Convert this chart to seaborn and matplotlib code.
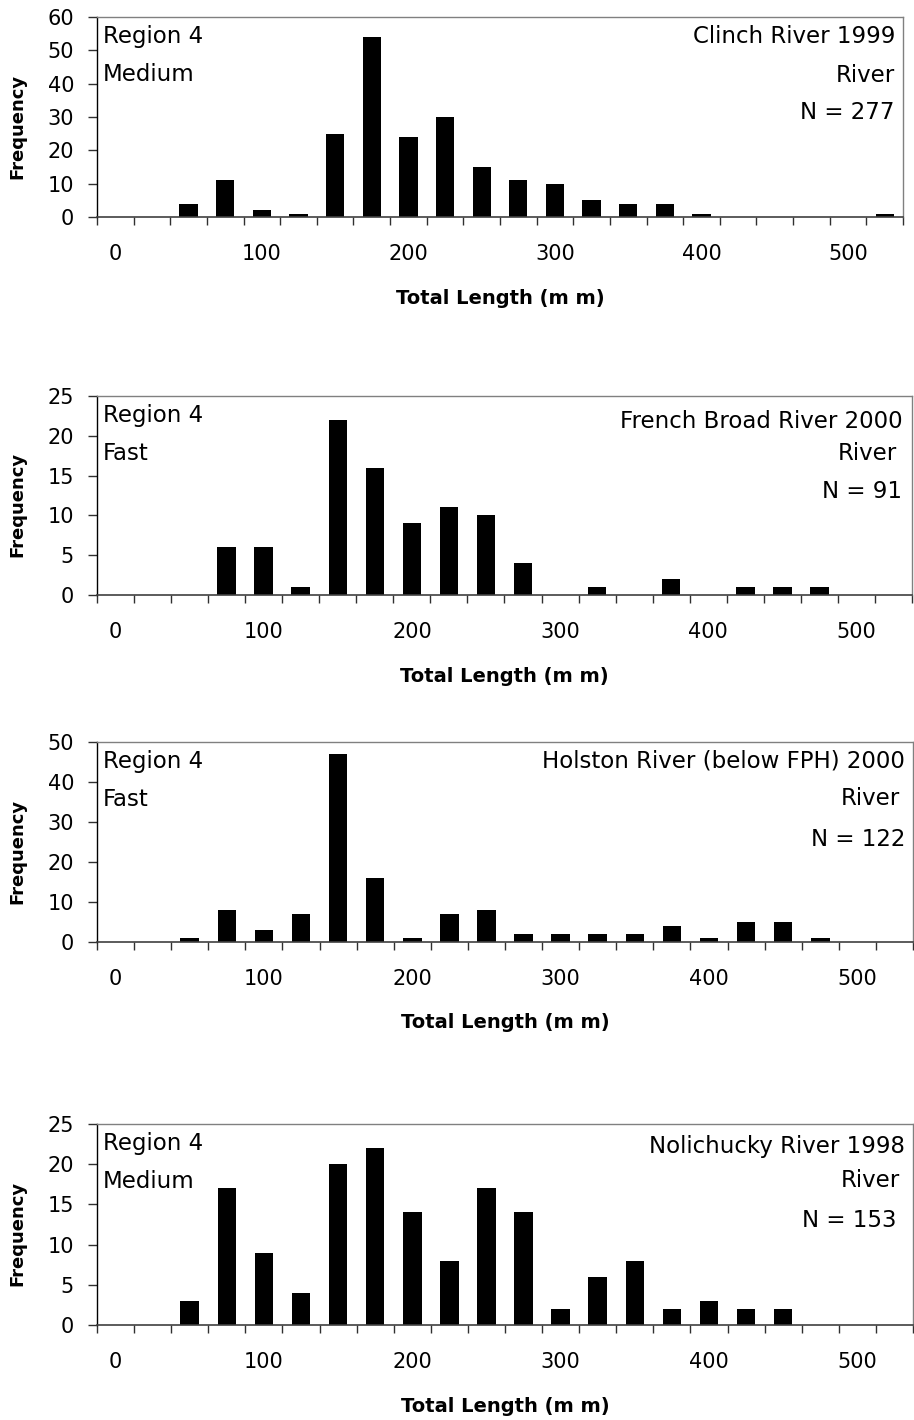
import numpy as np
import pandas as pd
import matplotlib
matplotlib.use("Agg")
import matplotlib.pyplot as plt
import seaborn as sns

# ---------------- data ----------------
length_bins = [0, 25, 50, 75, 100, 125, 150, 175, 200, 225, 250,
               275, 300, 325, 350, 375, 400, 425, 450, 475, 500, 525]
x_tick_labels = ["0", "100", "200", "300", "400", "500"]

clinch_freq = [0, 0, 4, 11, 2, 1, 25, 54, 24, 30, 15,
               11, 10, 5, 4, 4, 1, 0, 0, 0, 0, 1]
french_broad_freq = [0, 0, 0, 6, 6, 1, 22, 16, 9, 11, 10,
                     4, 0, 1, 0, 2, 0, 1, 1, 1, 0, 0]
holston_freq = [0, 0, 1, 8, 3, 7, 47, 16, 1, 7, 8,
                2, 2, 2, 2, 4, 1, 5, 5, 1, 0, 0]
nolichucky_freq = [0, 0, 3, 17, 9, 4, 20, 22, 14, 8, 17,
                   14, 2, 6, 8, 2, 3, 2, 2, 0, 0, 0]

panel_left_text = [["Region 4", "Medium"], ["Region 4", "Fast"],
                   ["Region 4", "Fast"], ["Region 4", "Medium"]]
panel_right_text = [["Clinch River 1999", "River", "N = 277"],
                    ["French Broad River 2000", "River", "N = 91"],
                    ["Holston River (below FPH) 2000", "River", "N = 122"],
                    ["Nolichucky River 1998", "River", "N = 153"]]
panel_freqs = [clinch_freq, french_broad_freq, holston_freq, nolichucky_freq]
y_max = [60, 25, 50, 25]
y_step = [10, 5, 10, 5]

# ---------------- layout (pixels) ----------------
W, H = 914, 1420
# left, right, top, bottom in pixel coords
boxes = [(97, 903, 17, 217), (97, 912, 396, 595),
         (97, 913, 742, 942), (97, 913, 1124, 1325)]
right_baselines = [[26, 65, 102], [32, 64, 102], [25, 63, 104], [29, 63, 103]]
right_offsets = [[-8, -8, -8], [-9, -15, -10], [-8, -13, -8], [-8, -13, -16]]
left_baselines = [26, 64]

sns.set_theme(style="white")
plt.rcParams["font.family"] = ["DejaVu Sans"]

fig = plt.figure(figsize=(W / 100, H / 100), dpi=100)
order = [str(v) for v in length_bins]

for i in range(4):
    l, r, t, b = boxes[i]
    ax = fig.add_axes([l / W, (H - b) / H, (r - l) / W, (b - t) / H])
    df = pd.DataFrame({"Length": order, "Frequency": panel_freqs[i]})
    sns.barplot(data=df, x="Length", y="Frequency", order=order, color="black",
                saturation=1, width=0.5, edgecolor="black", linewidth=0, ax=ax)

    n = len(length_bins)
    ax.set_xlim(-0.5, n - 0.5)
    ax.set_ylim(0, y_max[i])
    ax.set_yticks(np.arange(0, y_max[i] + 1, y_step[i]))
    ax.set_yticklabels([str(v) for v in range(0, y_max[i] + 1, y_step[i])])
    ax.set_xticks([0, 4, 8, 12, 16, 20])
    ax.set_xticklabels(x_tick_labels)
    ax.set_xticks(np.arange(-0.5, n, 1.0), minor=True)

    ax.tick_params(axis="x", which="major", length=0, pad=19.5, labelsize=15,
                   labelcolor="black")
    ax.tick_params(axis="x", which="minor", bottom=True, length=5.8, width=1,
                   color="#303030", direction="out")
    ax.tick_params(axis="y", which="major", left=True, length=6.5, width=1,
                   color="#303030", direction="out", pad=10, labelsize=15,
                   labelcolor="black")

    for side in ["top", "right"]:
        ax.spines[side].set_visible(True)
        ax.spines[side].set_color("#808080")
        ax.spines[side].set_linewidth(1.0)
    ax.spines["left"].set_color("black")
    ax.spines["left"].set_linewidth(1.0)
    ax.spines["bottom"].set_color("#404040")
    ax.spines["bottom"].set_linewidth(1.2)
    ax.grid(False)

    ax.set_xlabel("Total Length (m m)", fontsize=14, fontweight="bold",
                  color="black", va="center")
    ax.xaxis.set_label_coords(0.5, -81 / (b - t))
    ax.set_ylabel("Frequency", fontsize=13, fontweight="bold",
                  color="black", va="center")
    ax.yaxis.set_label_coords((17 - l) / (r - l), 0.455)

    for j, txt in enumerate(panel_left_text[i]):
        ax.annotate(txt, xy=(0, 1), xycoords="axes fraction",
                    xytext=(6, -left_baselines[j]), textcoords="offset pixels",
                    ha="left", va="baseline", fontsize=16.5, color="black")
    for j, txt in enumerate(panel_right_text[i]):
        ax.annotate(txt, xy=(1, 1), xycoords="axes fraction",
                    xytext=(right_offsets[i][j], -right_baselines[i][j]),
                    textcoords="offset pixels",
                    ha="right", va="baseline", fontsize=16.5, color="black")

fig.savefig("out.png", dpi=100, facecolor="white")
